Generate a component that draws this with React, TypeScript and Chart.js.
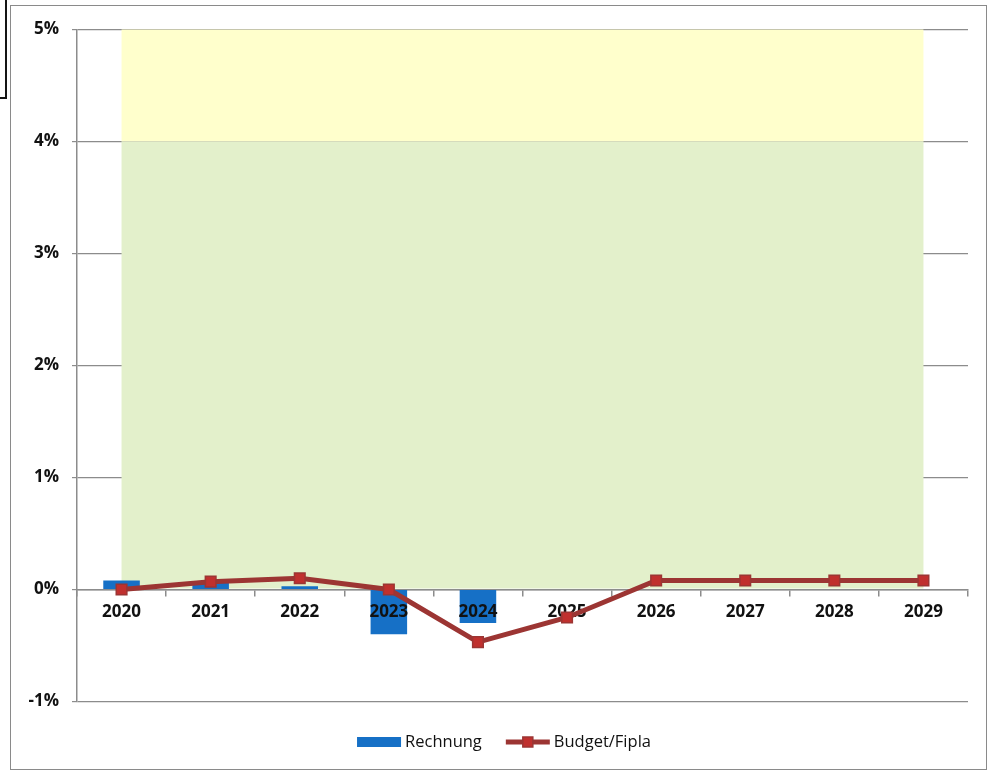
import React, { useEffect, useRef } from "react";
import { Chart, registerables } from "chart.js";

Chart.register(...registerables);

const categories = ["2020", "2021", "2022", "2023", "2024", "2025", "2026", "2027", "2028", "2029"];
const rechnung = [0.08, 0.07, 0.03, -0.4, -0.3, null, null, null, null, null];
const budgetFipla = [0.0, 0.07, 0.1, 0.0, -0.47, -0.25, 0.08, 0.08, 0.08, 0.08];
const yTicks = [-1, 0, 1, 2, 3, 4, 5];
const yellowZone = [4, 5];
const greenZone = [0, 4];
const seriesNames = ["Rechnung", "Budget/Fipla"];

const FONT = "'Open Sans', sans-serif";
const BAR_COLOR = "#1670c6";
const LINE_COLOR = "#9c3533";
const POINT_COLOR = "#c0302e";
const AXIS_COLOR = "#8c8c8c";

const bandsPlugin = {
  id: "bands",
  beforeDatasetsDraw(chart: any) {
    const { ctx, scales } = chart;
    const x = scales.x, y = scales.y;
    const x0 = x.getPixelForValue(0);
    const x1 = x.getPixelForValue(categories.length - 1);
    ctx.save();
    ctx.fillStyle = "#ffffcc";
    ctx.fillRect(x0, y.getPixelForValue(yellowZone[1]), x1 - x0, y.getPixelForValue(yellowZone[0]) - y.getPixelForValue(yellowZone[1]));
    ctx.fillStyle = "#e3f0cb";
    const gTop = y.getPixelForValue(greenZone[1]);
    ctx.fillRect(x0, gTop, x1 - x0, y.getPixelForValue(greenZone[0]) - gTop - 1);
    ctx.restore();
  },
};

const xLabelsPlugin = {
  id: "xLabels",
  beforeDatasetDraw(chart: any, args: any) {
    if (args.index !== 1) return;
    const { ctx, scales } = chart;
    const x = scales.x, y = scales.y;
    const base = y.getPixelForValue(0);
    ctx.save();
    ctx.font = `700 17px ${FONT}`;
    ctx.fillStyle = "#111";
    ctx.textAlign = "center";
    ctx.textBaseline = "middle";
    categories.forEach((c, i) => {
      ctx.fillText(c, x.getPixelForValue(i), base + 23);
    });
    ctx.restore();
  },
};

const legendPlugin = {
  id: "customLegend",
  afterDraw(chart: any) {
    const { ctx } = chart;
    ctx.save();
    ctx.font = `500 16.5px ${FONT}`;
    ctx.textBaseline = "middle";
    ctx.fillStyle = "#111";
    const boxW = 44;
    const gap = 4;
    const itemGap = 24;
    const w0 = ctx.measureText(seriesNames[0]).width;
    const w1 = ctx.measureText(seriesNames[1]).width;
    const total = boxW + gap + w0 + itemGap + boxW + gap + w1;
    const cy = 742;
    let x = 504 - total / 2;
    ctx.fillStyle = BAR_COLOR;
    ctx.fillRect(x, cy - 5, boxW, 10);
    x += boxW + gap;
    ctx.fillStyle = "#111";
    ctx.fillText(seriesNames[0], x, cy);
    x += w0 + itemGap;
    ctx.strokeStyle = LINE_COLOR;
    ctx.lineWidth = 5;
    ctx.beginPath();
    ctx.moveTo(x, cy);
    ctx.lineTo(x + boxW, cy);
    ctx.stroke();
    ctx.fillStyle = POINT_COLOR;
    ctx.strokeStyle = LINE_COLOR;
    ctx.lineWidth = 1.5;
    ctx.fillRect(x + boxW / 2 - 5, cy - 5, 10, 10);
    ctx.strokeRect(x + boxW / 2 - 5, cy - 5, 10, 10);
    x += boxW + gap;
    ctx.fillStyle = "#111";
    ctx.fillText(seriesNames[1], x, cy);
    ctx.restore();
  },
};

export default function App() {
  const ref = useRef<HTMLCanvasElement>(null);
  useEffect(() => {
    const chart = new Chart(ref.current as HTMLCanvasElement, {
      type: "bar",
      data: {
        labels: categories,
        datasets: [
          {
            type: "bar",
            label: seriesNames[0],
            data: rechnung as any,
            backgroundColor: BAR_COLOR,
            barPercentage: 0.41,
            categoryPercentage: 1,
            order: 2,
          },
          {
            type: "line",
            label: seriesNames[1],
            data: budgetFipla,
            borderColor: LINE_COLOR,
            borderWidth: 5,
            pointStyle: "rect",
            pointRadius: 7.5,
            pointBackgroundColor: POINT_COLOR,
            pointBorderColor: LINE_COLOR,
            pointBorderWidth: 1.5,
            tension: 0,
            order: 1,
          } as any,
        ],
      },
      options: {
        responsive: false,
        animation: false,
        events: [],
        layout: { padding: { left: 0, top: 29.5, right: 22, bottom: 69.5 } },
        plugins: { legend: { display: false }, tooltip: { enabled: false } },
        scales: {
          x: {
            position: { y: 0 } as any,
            offset: true,
            grid: { offset: true, drawOnChartArea: false, drawTicks: true, tickLength: 6, color: AXIS_COLOR, lineWidth: 1.5 },
            border: { color: AXIS_COLOR, width: 1.5 },
            ticks: { display: false },
          },
          y: {
            min: yTicks[0],
            max: yTicks[yTicks.length - 1],
            afterBuildTicks: (scale: any) => {
              scale.ticks = yTicks.map((v) => ({ value: v }));
            },
            afterFit: (scale: any) => {
              scale.width = 77;
            },
            ticks: {
              callback: (v: any) => `${v}%`,
              font: { family: FONT, size: 17, weight: 700 as any },
              color: "#111",
              padding: 13,
            },
            grid: { color: AXIS_COLOR, lineWidth: 1.2, tickLength: 5 },
            border: { color: AXIS_COLOR, width: 1.5 },
          },
        },
      },
      plugins: [bandsPlugin, xLabelsPlugin, legendPlugin],
    });
    return () => chart.destroy();
  }, []);

  return (
    <div style={{ position: "fixed", left: 0, top: 0, width: 990, height: 771, background: "#fff", overflow: "hidden" }}>
      <div style={{ position: "absolute", left: 10, top: 5, width: 975, height: 763, border: "1.5px solid #8a8a8a" }} />
      <div style={{ position: "absolute", left: -4, top: -4, width: 7, height: 99, border: "2px solid #151515" }} />
      <canvas ref={ref} width={990} height={771} style={{ position: "absolute", left: 0, top: 0, width: 990, height: 771 }} />
    </div>
  );
}
